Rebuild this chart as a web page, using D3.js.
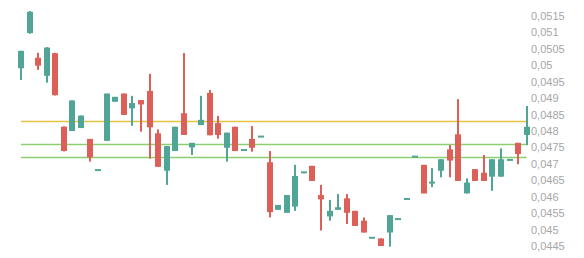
<!DOCTYPE html>
<html><head><meta charset="utf-8">
<script src="https://cdn.jsdelivr.net/npm/d3@7"></script>
<style>html,body{margin:0;padding:0;background:#fff;}svg{display:block;}</style>
</head><body>
<svg id="chart" width="584" height="258"></svg>
<script>
const days = d3.range(1, 61);
const opens  = [0.04991,0.05098,0.05023,0.04968,0.05037,0.04813,0.04800,0.04809,0.04776,0.04681,
                0.04770,0.04889,0.04914,0.04869,0.04894,0.04922,0.04793,0.04679,0.04739,0.04854,
                0.04750,0.04818,0.04916,0.04824,0.04749,0.04813,0.04742,0.04776,0.04783,0.04705,
                0.04560,0.04551,0.04570,0.04674,0.04694,0.04605,0.04540,0.04560,0.04595,0.04557,
                0.04527,0.04475,0.04473,0.04491,0.04532,0.04593,0.04722,0.04697,0.04641,0.04679,
                0.04744,0.04790,0.04610,0.04684,0.04673,0.04661,0.04661,0.04712,0.04764,0.04788];
const closes = [0.05044,0.05163,0.04999,0.05054,0.04909,0.04739,0.04893,0.04847,0.04720,0.04681,
                0.04914,0.04904,0.04849,0.04885,0.04881,0.04811,0.04691,0.04754,0.04813,0.04788,
                0.04764,0.04834,0.04787,0.04788,0.04795,0.04739,0.04742,0.04749,0.04783,0.04553,
                0.04575,0.04605,0.04663,0.04674,0.04648,0.04592,0.04557,0.04568,0.04551,0.04511,
                0.04491,0.04475,0.04450,0.04544,0.04532,0.04593,0.04722,0.04610,0.04646,0.04714,
                0.04710,0.04648,0.04643,0.04648,0.04648,0.04714,0.04714,0.04712,0.04730,0.04813];
const highs  = [0.05044,0.05165,0.05038,0.05055,0.05038,0.04814,0.04893,0.04847,0.04776,0.04681,
                0.04914,0.04904,0.04914,0.04907,0.04894,0.04974,0.04805,0.04754,0.04813,0.05037,
                0.04764,0.04907,0.04925,0.04846,0.04795,0.04813,0.04742,0.04815,0.04783,0.04739,
                0.04575,0.04605,0.04697,0.04674,0.04694,0.04636,0.04590,0.04608,0.04608,0.04557,
                0.04537,0.04475,0.04473,0.04544,0.04532,0.04593,0.04722,0.04697,0.04687,0.04714,
                0.04757,0.04897,0.04656,0.04684,0.04727,0.04714,0.04747,0.04712,0.04764,0.04876];
const lows   = [0.04955,0.05096,0.04986,0.04947,0.04908,0.04738,0.04800,0.04809,0.04707,0.04681,
                0.04770,0.04889,0.04849,0.04816,0.04798,0.04716,0.04691,0.04636,0.04739,0.04788,
                0.04727,0.04818,0.04787,0.04777,0.04707,0.04739,0.04742,0.04737,0.04783,0.04537,
                0.04560,0.04551,0.04557,0.04674,0.04648,0.04497,0.04527,0.04560,0.04517,0.04511,
                0.04491,0.04475,0.04450,0.04448,0.04532,0.04593,0.04722,0.04610,0.04629,0.04659,
                0.04659,0.04648,0.04610,0.04648,0.04648,0.04618,0.04661,0.04712,0.04699,0.04757];
const levelValues = [0.0483, 0.0476, 0.0472];
const levelColors = ["#e6c440", "#8cce72", "#8cce72"];
const tickValues = [0.0445,0.045,0.0455,0.046,0.0465,0.047,0.0475,0.048,0.0485,0.049,0.0495,0.05,0.0505,0.051,0.0515];

const UP = "#51a597", DOWN = "#dc5f58";
const svg = d3.select("#chart");
const x = d3.scalePoint().domain(days).range([21, 526.7]);
const y = d3.scaleLinear().domain([0.0445, 0.0515]).range([246, 16]);
const loc = d3.formatLocale({decimal: ",", thousands: ".", grouping: [3], currency: ["", ""]});
const fmt = loc.format("~g");

// level lines
const lg = svg.append("g");
levelValues.forEach((v, i) => {
  lg.append("line")
    .attr("x1", x(days[0])).attr("x2", x(days[days.length - 1]))
    .attr("y1", Math.round(y(v)) + 0.5).attr("y2", Math.round(y(v)) + 0.5)
    .style("stroke", levelColors[i]).attr("stroke-width", 1.3);
});

const data = days.map((d, i) => ({d, o: opens[i], c: closes[i], h: highs[i], l: lows[i]}));
const g = svg.append("g");
const bw = 6;
const cx = d => Math.round(x(d.d));
g.selectAll("rect.wick").data(data).join("rect").attr("class", "wick")
  .attr("x", d => cx(d) - 1).attr("width", 2)
  .attr("y", d => y(d.h)).attr("height", d => Math.max(0, y(d.l) - y(d.h)))
  .style("fill", d => d.c >= d.o ? UP : DOWN);
g.selectAll("rect.body").data(data).join("rect").attr("class", "body")
  .attr("x", d => cx(d) - bw / 2).attr("width", bw)
  .attr("y", d => Math.min(y(d.o), y(d.c)) - (d.o === d.c ? 1 : 0))
  .attr("height", d => Math.max(2, Math.abs(y(d.o) - y(d.c))))
  .style("fill", d => d.c >= d.o ? UP : DOWN);

// right axis
const axis = d3.axisRight(y).tickValues(tickValues).tickFormat(fmt).tickSize(0).tickPadding(0);
const ag = svg.append("g").attr("transform", "translate(531,0)").call(axis);
ag.select(".domain").remove();
ag.selectAll("text").style("fill", "#a6a6a6").attr("font-size", 11)
  .attr("font-family", "'Liberation Sans', Arial, sans-serif");
</script>
</body></html>
